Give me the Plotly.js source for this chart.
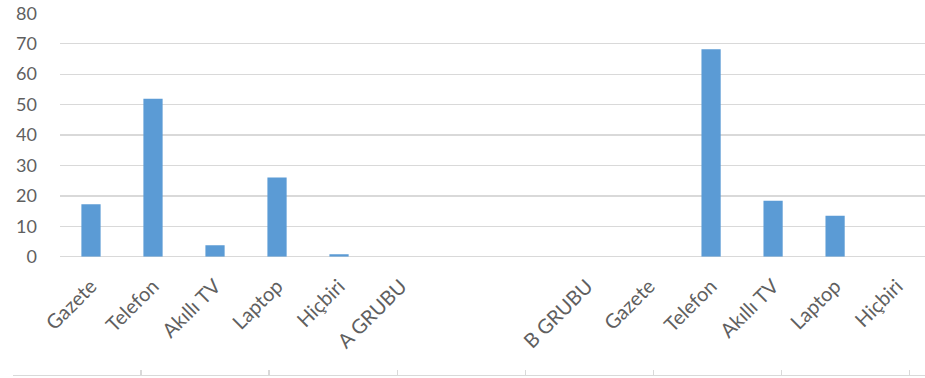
<!DOCTYPE html>
<html>
<head>
<meta charset="utf-8">
<script src="https://cdn.plot.ly/plotly-3.0.1.min.js"></script>
<style>html,body{margin:0;padding:0;background:#fff;}#chart{width:925px;height:378px;}</style>
</head>
<body>
<div id="chart"></div>
<script>
const categories = ["Gazete", "Telefon", "Akıllı TV", "Laptop", "Hiçbiri", "A GRUBU", "", "", "B GRUBU", "Gazete", "Telefon", "Akıllı TV", "Laptop", "Hiçbiri"];
const values = [17.2, 51.9, 3.8, 26.0, 0.8, 0, 0, 0, 0, 0, 68.2, 18.4, 13.5, 0];
const yTicks = [0, 10, 20, 30, 40, 50, 60, 70, 80];

const positions = categories.map((_, i) => i);
const W = 925, H = 378;
const fontFam = "Lato, 'Open Sans', sans-serif";
const grid = "#d9d9d9";
const txt = "#5f5f5f";

const traces = [
  {type: "bar", x: positions, y: values, marker: {color: "#5b9bd5"}, hoverinfo: "skip", showlegend: false},
  {type: "scatter", x: [], y: [], xaxis: "x2", yaxis: "y2", showlegend: false, hoverinfo: "skip"}
];

const layout = {
  width: W, height: H,
  margin: {l: 0, r: 0, t: 0, b: 0},
  paper_bgcolor: "#fff", plot_bgcolor: "rgba(0,0,0,0)",
  bargap: 0.69,
  font: {family: fontFam, color: txt, size: 18},
  xaxis: {
    domain: [60 / W, 1],
    range: [-0.5, 13.45],
    tickmode: "array", tickvals: positions, ticktext: categories,
    tickangle: -45, ticks: "", showgrid: false, zeroline: false, showline: false,
    automargin: false, ticklabelstandoff: 13,
    tickfont: {family: fontFam, size: 20, color: txt}
  },
  xaxis2: {
    anchor: "y2", side: "bottom",
    domain: [13 / W, 1], range: [0, 7.12],
    tick0: 0, dtick: 1, ticks: "inside", ticklen: 5, tickcolor: grid, tickwidth: 1.5,
    showticklabels: false, showgrid: false, zeroline: false,
    showline: true, linecolor: grid, linewidth: 1.5, automargin: false
  },
  yaxis2: {
    domain: [(H - 374.5) / H, (H - 372) / H], visible: false, range: [0, 1]
  },
  yaxis: {
    domain: [(H - 256.7) / H, (H - 13.3) / H],
    range: [0, 80],
    tickmode: "array", tickvals: yTicks,
    showgrid: true, gridcolor: grid, gridwidth: 1.3,
    zeroline: true, zerolinecolor: grid, zerolinewidth: 1.3,
    showline: false, ticks: "", automargin: false, ticklabelstandoff: 22,
    tickfont: {family: fontFam, size: 18, color: txt}
  }
};

Plotly.newPlot("chart", traces, layout, {displayModeBar: false, staticPlot: true});
</script>
</body>
</html>
